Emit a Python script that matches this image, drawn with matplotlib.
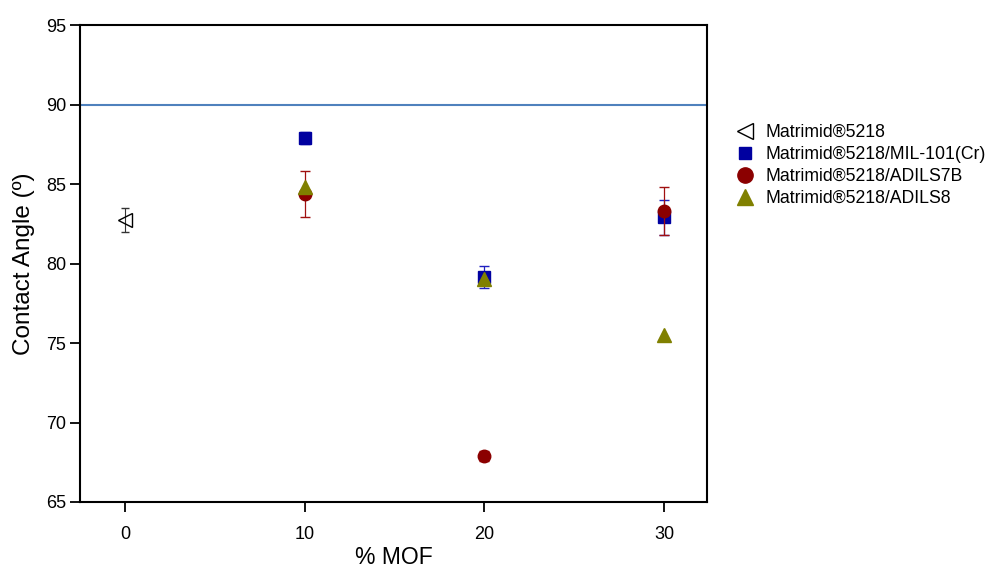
import matplotlib
matplotlib.use("Agg")
import matplotlib.pyplot as plt

plt.rcParams['font.family'] = ['Liberation Sans', 'DejaVu Sans']

# Data
matrimid_x = [0]
matrimid_y = [82.75]
matrimid_err = [0.75]

mil_x = [10, 20, 30]
mil_y = [87.9, 79.15, 82.9]
mil_err = [0.4, 0.7, 1.1]

adils7b_x = [10, 20, 30]
adils7b_y = [84.4, 67.9, 83.3]
adils7b_err = [1.45, 0.3, 1.5]

adils8_x = [10, 20, 30]
adils8_y = [84.8, 79.0, 75.5]
adils8_err = [0.3, 0.4, 0.35]

labels = ["Matrimid®5218", "Matrimid®5218/MIL-101(Cr)",
          "Matrimid®5218/ADILS7B", "Matrimid®5218/ADILS8"]
ref_line = 90

fig = plt.figure(figsize=(9.95, 5.7), dpi=100)
ax = fig.add_axes([0.0804, 0.1193, 0.6302, 0.8367])

ax.axhline(ref_line, color='#4f81bd', lw=1.5, zorder=1)

ax.errorbar(matrimid_x, matrimid_y, yerr=matrimid_err, fmt='<', ms=10,
            mfc='none', mec='black', mew=1.0, ecolor='#333333',
            elinewidth=0.8, capsize=3, label=labels[0], zorder=3)
ax.errorbar(mil_x, mil_y, yerr=mil_err, fmt='s', ms=8,
            color='#0000a0', mec='#0000a0', ecolor='#2020c0',
            elinewidth=0.9, capsize=3.5, linestyle='none',
            label=labels[1], zorder=4)
ax.errorbar(adils7b_x, adils7b_y, yerr=adils7b_err, fmt='o', ms=9,
            color='#8b0000', mec='#8b0000', ecolor='#a01010',
            elinewidth=0.9, capsize=3.5, linestyle='none',
            label=labels[2], zorder=5)
ax.errorbar(adils8_x, adils8_y, yerr=adils8_err, fmt='^', ms=10,
            color='#808000', mec='#808000', ecolor='#808000',
            elinewidth=0.9, capsize=0, linestyle='none',
            label=labels[3], zorder=6)

ax.set_xlim(-2.5, 32.4)
ax.set_ylim(65, 95)
ax.set_xticks([0, 10, 20, 30])
ax.set_yticks([65, 70, 75, 80, 85, 90, 95])
ax.tick_params(axis='both', direction='out', length=7, width=1.3,
               labelsize=13, colors='black', pad=3)
ax.tick_params(axis='x', pad=10)
for s in ax.spines.values():
    s.set_linewidth(1.5)
    s.set_color('black')

ax.set_xlabel('% MOF', fontsize=16.5)
ax.xaxis.set_label_coords(0.5, -0.093)
ax.set_ylabel('Contact Angle (º)', fontsize=17.5, labelpad=8)

leg_handles = [
    plt.Line2D([], [], marker='<', ls='none', ms=12, mfc='none', mec='black', mew=1.0),
    plt.Line2D([], [], marker='s', ls='none', ms=9, color='#0000a0'),
    plt.Line2D([], [], marker='o', ls='none', ms=11, color='#8b0000'),
    plt.Line2D([], [], marker='^', ls='none', ms=12, color='#808000'),
]
fig.legend(leg_handles, labels, loc='upper left',
           bbox_to_anchor=(0.731, 0.795), frameon=False, fontsize=12.7,
           handletextpad=0.55, labelspacing=0.28, handlelength=1.2,
           borderaxespad=0)

fig.savefig('out.png', dpi=100, facecolor='white')
